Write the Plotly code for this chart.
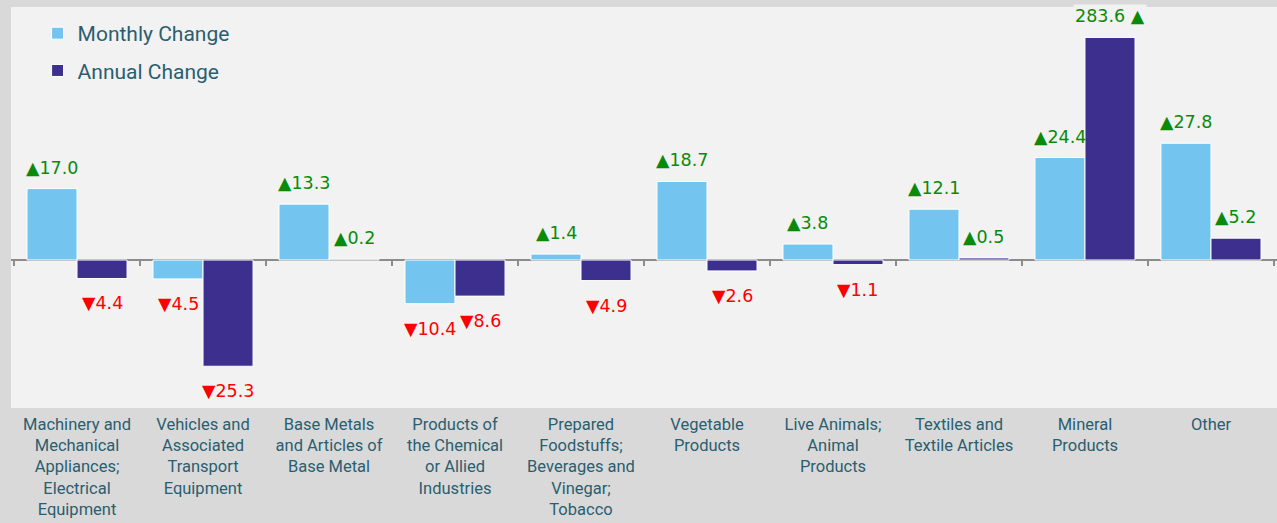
import plotly.graph_objects as go

categories = ["Machinery", "Vehicles", "Base Metals", "Chemical", "Foodstuffs",
              "Vegetable", "Live Animals", "Textiles", "Mineral", "Other"]
tick_labels = [
    "Machinery and<br>Mechanical<br>Appliances;<br>Electrical<br>Equipment",
    "Vehicles and<br>Associated<br>Transport<br>Equipment",
    "Base Metals<br>and Articles of<br>Base Metal",
    "Products of<br>the Chemical<br>or Allied<br>Industries",
    "Prepared<br>Foodstuffs;<br>Beverages and<br>Vinegar;<br>Tobacco",
    "Vegetable<br>Products",
    "Live Animals;<br>Animal<br>Products",
    "Textiles and<br>Textile Articles",
    "Mineral<br>Products",
    "Other",
]
monthly = [17.0, -4.5, 13.3, -10.4, 1.4, 18.7, 3.8, 12.1, 24.4, 27.8]
annual = [-4.4, -25.3, 0.2, -8.6, -4.9, -2.6, -1.1, 0.5, 283.6, 5.2]
series_names = ["Monthly Change", "Annual Change"]

# display settings
BAR_CAP = 53.0          # very tall bars are truncated (axis break) as in the reference
Y_RANGE = [-35.24, 60.24]
X_RANGE = [-0.524, 9.524]
C_MONTH = "#73C5EF"
C_ANNUAL = "#3C2F8E"
C_TEXT = "#2a5e70"
C_UP = "#0a8a0a"
C_DOWN = "#ff0000"
CAT_FONT = "Roboto, sans-serif"
VAL_FONT = "DejaVu Sans, sans-serif"

fig = go.Figure()
for name, vals, col, grp in [(series_names[0], monthly, C_MONTH, "m"),
                             (series_names[1], annual, C_ANNUAL, "a")]:
    disp = [min(v, BAR_CAP) for v in vals]
    fig.add_trace(go.Bar(
        x=categories, y=disp, name=name, legendgroup=grp,
        marker=dict(color=col, line=dict(color="white", width=1)),
        hoverinfo="skip",
    ))

annotations = []
for vals, shift in [(monthly, -25), (annual, 25)]:
    for cat, v in zip(categories, vals):
        shown = min(v, BAR_CAP)
        if v > BAR_CAP:
            txt = f"{v:.1f} \u25B2"
        elif v >= 0:
            txt = f"\u25B2{v:.1f}"
        else:
            txt = f"\u25BC{abs(v):.1f}"
        annotations.append(dict(
            x=cat, y=shown, xref="x", yref="y", text=txt, showarrow=False,
            xshift=shift, yshift=21 if v >= 0 else -25,
            xanchor="center", yanchor="middle",
            font=dict(family=VAL_FONT, size=17.5, color=C_UP if v >= 0 else C_DOWN),
            bgcolor="#f2f2f2" if v > BAR_CAP else "rgba(0,0,0,0)",
        ))

shapes = []
for i in range(len(categories) + 1):
    shapes.append(dict(
        type="line", xref="x", yref="y", x0=i - 0.5, x1=i - 0.5,
        ysizemode="pixel", yanchor=0, y0=0, y1=-6,
        line=dict(color="#8c8c8c", width=2), layer="below",
    ))

fig.update_layout(
    width=1277, height=523,
    margin=dict(l=11, r=0, t=7, b=115),
    paper_bgcolor="#d9d9d9", plot_bgcolor="#f2f2f2",
    barmode="group", bargap=0.206, bargroupgap=0,
    showlegend=True,
    legend=dict(
        x=0.021, y=0.985, xanchor="left", yanchor="top",
        bgcolor="rgba(0,0,0,0)", tracegroupgap=7,
        font=dict(family=CAT_FONT, size=21, color=C_TEXT),
        traceorder="grouped",
    ),
    annotations=annotations,
    shapes=shapes,
    xaxis=dict(
        type="category", range=X_RANGE, tickvals=categories, ticktext=tick_labels,
        showgrid=False, zeroline=False, showline=False, ticks="",
        ticklabelstandoff=4,
        tickfont=dict(family=CAT_FONT, size=16.5, color=C_TEXT),
        fixedrange=True,
    ),
    yaxis=dict(
        range=Y_RANGE, showgrid=False, showticklabels=False, ticks="",
        zeroline=True, zerolinecolor="#8c8c8c", zerolinewidth=2,
        fixedrange=True,
    ),
)

fig.write_html(
    "out.html",
    config={"displayModeBar": False},
    post_script="document.body.style.margin='0';document.body.style.overflow='hidden';",
)
